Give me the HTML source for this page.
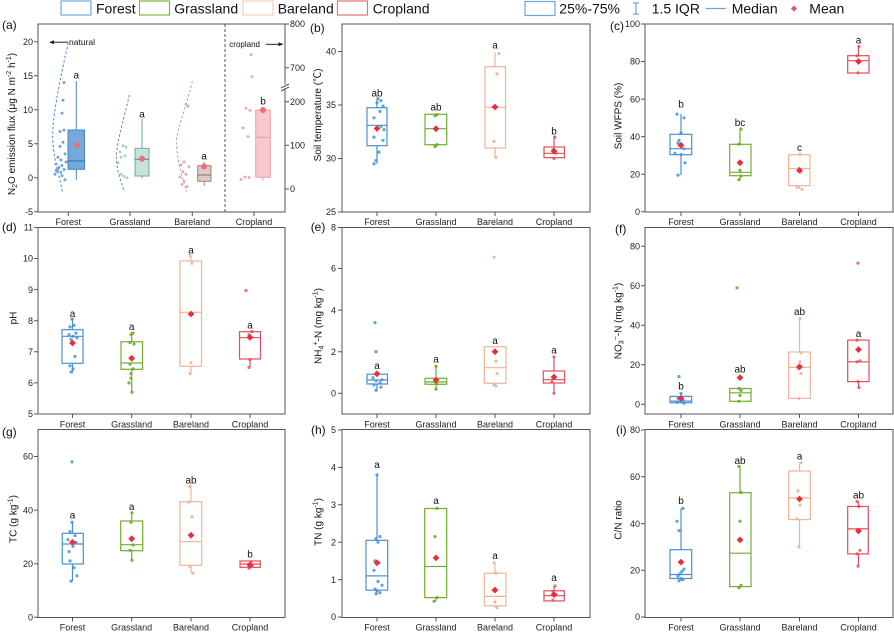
<!DOCTYPE html>
<html><head><meta charset="utf-8"><style>
html,body{margin:0;padding:0;background:#fff;}
svg{display:block;font-family:"Liberation Sans",Arial,"Noto Sans CJK SC",sans-serif;}
.fr{fill:none;stroke:#555;stroke-width:1}
.tk{stroke:#555;stroke-width:1;fill:none}
.yl{font-size:9px;fill:#222;text-anchor:end}
.yr{font-size:9px;fill:#222}
.xl{font-size:9px;fill:#222;text-anchor:middle}
.at{font-size:10px;fill:#111;text-anchor:middle}
.pl{font-size:12px;fill:#111}
.lt{font-size:10px;fill:#111;text-anchor:middle}
.lg{font-size:14px;fill:#111}
.F{fill:none;stroke:#4a90d0;stroke-width:1.2}
.G{fill:none;stroke:#72ad2e;stroke-width:1.2}
.B{fill:none;stroke:#f0b496;stroke-width:1.2}
.C{fill:none;stroke:#e44c5a;stroke-width:1.2}
.pF{fill:#5fa3d9}
.pG{fill:#7ab43c}
.pB{fill:#ecb9a2}
.pC{fill:#e8707a}
</style></head><body>
<svg width="894" height="632" viewBox="0 0 894 632" xmlns="http://www.w3.org/2000/svg">
<defs><path id="m" d="M0,-3.4L3.4,0L0,3.4L-3.4,0Z" fill="#e8303a"/></defs>

<!-- Legend -->
<rect x="61" y="1" width="30" height="14" fill="none" stroke="#6aaee0" stroke-width="1.2"/>
<text class="lg" x="96" y="13.5">Forest</text>
<rect x="139.5" y="1" width="30" height="14" fill="none" stroke="#7db63c" stroke-width="1.2"/>
<text class="lg" x="174.3" y="13.5">Grassland</text>
<rect x="243" y="1" width="30" height="14" fill="none" stroke="#f5cdb8" stroke-width="1.2"/>
<text class="lg" x="277.7" y="13.5">Bareland</text>
<rect x="337.5" y="1" width="30" height="14" fill="none" stroke="#e0707a" stroke-width="1.2"/>
<text class="lg" x="372.7" y="13.5">Cropland</text>
<rect x="525" y="1.5" width="30" height="14" fill="none" stroke="#6aa8dc" stroke-width="1.2"/>
<text class="lg" x="559.3" y="13.5">25%-75%</text>
<path d="M636,3V14M633,3H639M633,14H639" stroke="#6aa8dc" stroke-width="1.2" fill="none"/>
<text class="lg" x="651.7" y="13.5">1.5 IQR</text>
<line x1="705.7" y1="8.5" x2="725.7" y2="8.5" stroke="#6aa8dc" stroke-width="1.2"/>
<text class="lg" x="731.7" y="13.5">Median</text>
<path d="M794,5.5L797,8.5L794,11.5L791,8.5Z" fill="#e8505a"/>
<text class="lg" x="809.3" y="13.5">Mean</text>

<!-- ===== Panel (a) ===== -->
<text class="pl" x="2" y="29">(a)</text>
<rect class="fr" x="38" y="24" width="247" height="188"/>
<path class="tk" d="M34,41.7H38M34,75.7H38M34,109.7H38M34,143.7H38M34,177.7H38M34,211.7H38"/>
<text class="yl" x="33" y="44.9">20</text>
<text class="yl" x="33" y="78.9">15</text>
<text class="yl" x="33" y="112.9">10</text>
<text class="yl" x="33" y="146.9">5</text>
<text class="yl" x="33" y="180.9">0</text>
<text class="yl" x="33" y="214.9">-5</text>
<path class="tk" d="M285,24H289M285,67.7H289M285,101.7H289M285,145.3H289M285,189H289"/>
<text class="yr" x="290" y="27.2">800</text>
<text class="yr" x="290" y="70.9">700</text>
<text class="yr" x="290" y="104.9">200</text>
<text class="yr" x="290" y="148.5">100</text>
<text class="yr" x="290" y="192.2">0</text>
<rect x="283" y="84.5" width="5" height="4" fill="#fff"/>
<path d="M281,88L289,84M281,91L289,87" stroke="#555" stroke-width="1" fill="none"/>
<path class="tk" d="M68.3,212V216M130,212V216M192.3,212V216M254,212V216"/>
<text class="xl" x="68.3" y="225">Forest</text>
<text class="xl" x="130" y="225">Grassland</text>
<text class="xl" x="192.3" y="225">Bareland</text>
<text class="xl" x="254" y="225">Cropland</text>
<line x1="225" y1="24" x2="225" y2="212" stroke="#555" stroke-width="1" stroke-dasharray="3,2"/>
<line x1="52" y1="42.2" x2="68" y2="42.2" stroke="#222" stroke-width="1"/>
<path d="M49,42.2L54,40.2L54,44.2Z" fill="#222"/>
<text x="69" y="45" style="font-size:8.5px;fill:#111">natural</text>
<text x="229.3" y="47" style="font-size:8px;fill:#111">cropland</text>
<line x1="266" y1="44.3" x2="280" y2="44.3" stroke="#222" stroke-width="1"/>
<path d="M283.5,44.3L278.5,42.3L278.5,46.3Z" fill="#222"/>
<text class="at" transform="translate(15,124) rotate(-90)">N<tspan font-size="7" dy="2">2</tspan><tspan dy="-2">O emission flux (μg N m</tspan><tspan font-size="7" dy="-4">-2</tspan><tspan dy="4"> h</tspan><tspan font-size="7" dy="-4">-1</tspan><tspan dy="4">)</tspan></text>
<!-- violins -->
<path d="M68.3,42.7C60,80 50,125 53.3,146.7C55,165 60,178 62.3,191.7" fill="none" stroke="#4a89c6" stroke-width="1" stroke-dasharray="2.5,2"/>
<path d="M129.3,95C124,120 114,150 116.7,163C118,175 122,183 124,191.7" fill="none" stroke="#5f8f88" stroke-width="1" stroke-dasharray="2.5,2"/>
<path d="M192.3,81C186,110 174,135 176.7,147C178,165 183,180 186.7,191.7" fill="none" stroke="#c49a98" stroke-width="1" stroke-dasharray="2.5,2"/>
<!-- points a -->
<g fill="#6fa6da">
<circle cx="64" cy="82.5" r="1.5"/><circle cx="63" cy="100.2" r="1.5"/><circle cx="62" cy="113.1" r="1.5"/><circle cx="64" cy="130.1" r="1.5"/><circle cx="60" cy="131.5" r="1.5"/><circle cx="63" cy="142.3" r="1.5"/><circle cx="60" cy="146.4" r="1.5"/><circle cx="65" cy="153.9" r="1.5"/><circle cx="58" cy="157.3" r="1.5"/><circle cx="61" cy="160" r="1.5"/><circle cx="66" cy="162" r="1.5"/><circle cx="56" cy="164.1" r="1.5"/><circle cx="62" cy="165.5" r="1.5"/><circle cx="59" cy="167.5" r="1.5"/><circle cx="64" cy="169.5" r="1.5"/><circle cx="57" cy="170.5" r="2.2"/><circle cx="61" cy="172.3" r="1.5"/><circle cx="55" cy="174.3" r="1.5"/><circle cx="62" cy="175.7" r="1.5"/><circle cx="65" cy="179.7" r="1.5"/>
</g>
<g fill="#a8d0c7">
<circle cx="123" cy="145.7" r="1.5"/><circle cx="126" cy="147.1" r="1.5"/><circle cx="120" cy="151.9" r="1.5"/><circle cx="125" cy="155.9" r="1.5"/><circle cx="121" cy="157.3" r="1.5"/><circle cx="118" cy="162.7" r="1.5"/><circle cx="121" cy="174.3" r="1.5"/><circle cx="124" cy="176.3" r="1.5"/><circle cx="127" cy="177.7" r="1.5"/>
</g>
<g fill="#d9b2ae">
<circle cx="186" cy="104.3" r="1.5"/><circle cx="188" cy="106.3" r="1.5"/><circle cx="184" cy="162" r="1.5"/><circle cx="181" cy="164.8" r="1.5"/><circle cx="189" cy="166.8" r="1.5"/><circle cx="183" cy="171.6" r="1.5"/><circle cx="186" cy="174.3" r="1.5"/><circle cx="180" cy="177" r="1.5"/><circle cx="184" cy="181.1" r="1.5"/><circle cx="182" cy="184.5" r="1.5"/><circle cx="187" cy="186.5" r="1.5"/>
</g>
<g fill="#f0a8b0">
<circle cx="251" cy="54.6" r="1.5"/><circle cx="252" cy="76.7" r="1.5"/><circle cx="246" cy="108.2" r="1.5"/><circle cx="250" cy="110.3" r="1.5"/><circle cx="243" cy="127.8" r="1.5"/><circle cx="248" cy="136.6" r="1.5"/><circle cx="245" cy="177" r="1.5"/><circle cx="241" cy="179.4" r="1.5"/><circle cx="249" cy="177.5" r="1.5"/>
</g>
<!-- boxes a -->
<g stroke="#4a86c0" stroke-width="1">
<line x1="76.3" y1="81" x2="76.3" y2="130"/><line x1="76.3" y1="169.3" x2="76.3" y2="180"/>
<rect x="68" y="130" width="16.5" height="39.3" fill="#74a9dc"/>
<line x1="68" y1="161" x2="84.5" y2="161" stroke="#3a70a8"/>
</g>
<g stroke="#70a89e" stroke-width="1">
<line x1="142" y1="118.7" x2="142" y2="148.3"/><line x1="142" y1="176" x2="142" y2="178.3"/>
<rect x="135" y="148.3" width="14" height="27.7" fill="#c5e3dc"/>
<line x1="135" y1="159.3" x2="149" y2="159.3" stroke="#4f877d"/>
</g>
<g stroke="#9a8680" stroke-width="1">
<line x1="204.3" y1="162" x2="204.3" y2="165.7"/><line x1="204.3" y1="181.3" x2="204.3" y2="186"/>
<rect x="197.7" y="165.7" width="13.3" height="15.6" fill="#dccac4"/>
<line x1="197.7" y1="175" x2="211" y2="175" stroke="#8a6e68"/>
</g>
<g stroke="#eda0a6" stroke-width="1">
<line x1="263" y1="177.3" x2="263" y2="180.7"/>
<rect x="255.7" y="110" width="14.6" height="67.3" fill="#f8c8cc"/>
<line x1="255.7" y1="137.3" x2="270.3" y2="137.3" stroke="#e49aa0"/>
</g>
<g fill="#ec6d76">
<circle cx="77" cy="145" r="3"/><circle cx="142" cy="158.7" r="3"/><circle cx="204" cy="166.5" r="3"/><circle cx="263" cy="110" r="3"/>
</g>
<text class="lt" x="76.3" y="78.5">a</text>
<text class="lt" x="142" y="117.5">a</text>
<text class="lt" x="204" y="159.5">a</text>
<text class="lt" x="263" y="104.5">b</text>

<!-- ===== Panel (b) ===== -->
<text class="pl" x="310" y="32">(b)</text>
<rect class="fr" x="342" y="24" width="248" height="188"/>
<path class="tk" d="M338,51.5H342M338,105H342M338,158.5H342M338,212H342"/>
<text class="yl" x="336" y="54.7">40</text>
<text class="yl" x="336" y="108.2">35</text>
<text class="yl" x="336" y="161.7">30</text>
<text class="yl" x="336" y="215.2">25</text>
<path class="tk" d="M377,212V216M436,212V216M495,212V216M554,212V216"/>
<text class="xl" x="377" y="225">Forest</text>
<text class="xl" x="436" y="225">Grassland</text>
<text class="xl" x="495" y="225">Bareland</text>
<text class="xl" x="554" y="225">Cropland</text>
<text class="at" transform="translate(321,115) rotate(-90)">Soil temperature (℃)</text>
<g class="pF">
<circle cx="378" cy="98.6" r="1.6"/><circle cx="381" cy="100.7" r="1.6"/><circle cx="377" cy="102.9" r="1.6"/><circle cx="383" cy="106.1" r="1.6"/><circle cx="380" cy="111.4" r="1.6"/><circle cx="374" cy="117.8" r="1.6"/><circle cx="381" cy="126.4" r="1.6"/><circle cx="384" cy="129.6" r="1.6"/><circle cx="374" cy="137.1" r="1.6"/><circle cx="383" cy="140.3" r="1.6"/><circle cx="379" cy="152.1" r="1.6"/><circle cx="376" cy="160.6" r="1.6"/><circle cx="374" cy="163.8" r="1.6"/>
</g>
<g class="pG"><circle cx="437" cy="114.6" r="1.6"/><circle cx="435" cy="115.7" r="1.6"/><circle cx="436" cy="129.6" r="1.6"/><circle cx="437" cy="144.6" r="1.6"/><circle cx="435" cy="146.7" r="1.6"/></g>
<g class="pB"><circle cx="499" cy="53.6" r="1.6"/><circle cx="497" cy="74" r="1.6"/><circle cx="496" cy="107.1" r="1.6"/><circle cx="494" cy="141.4" r="1.6"/><circle cx="496" cy="157.4" r="1.6"/></g>
<g class="pC"><circle cx="555" cy="137.1" r="1.6"/><circle cx="553" cy="150" r="1.6"/><circle cx="556" cy="153.2" r="1.6"/><circle cx="554" cy="158.5" r="1.6"/></g>
<g class="F"><rect x="367" y="107.7" width="20" height="38"/><path d="M367,125.3H387M377,107.7V98.6M377,145.7V163.8"/></g>
<g class="G"><rect x="425" y="114.3" width="21.7" height="30.4"/><path d="M425,128.7H446.7M436,144.7V146.7"/></g>
<g class="B"><rect x="485" y="66.7" width="20.5" height="81.3"/><path d="M485,107.3H505.5M495,66.7V52.3M495,148V157"/></g>
<g class="C"><rect x="544" y="147" width="20.5" height="10.7"/><path d="M544,153.3H564.5M554,147V135.7"/></g>
<use href="#m" x="377" y="128.5"/><use href="#m" x="436" y="128.7"/><use href="#m" x="495" y="107"/><use href="#m" x="554" y="151"/>
<text class="lt" x="377" y="96.5">ab</text>
<text class="lt" x="436" y="110.5">ab</text>
<text class="lt" x="495" y="48.5">a</text>
<text class="lt" x="554" y="134.5">b</text>

<!-- ===== Panel (c) ===== -->
<text class="pl" x="610" y="30">(c)</text>
<rect class="fr" x="645" y="24" width="248" height="188"/>
<path class="tk" d="M641,24H645M641,61.5H645M641,99.1H645M641,136.6H645M641,174.2H645M641,211.7H645"/>
<text class="yl" x="640" y="27.2">100</text>
<text class="yl" x="640" y="64.7">80</text>
<text class="yl" x="640" y="102.3">60</text>
<text class="yl" x="640" y="139.8">40</text>
<text class="yl" x="640" y="177.4">20</text>
<text class="yl" x="640" y="214.9">0</text>
<path class="tk" d="M681,212V216M740,212V216M799.5,212V216M858.5,212V216"/>
<text class="xl" x="681" y="225">Forest</text>
<text class="xl" x="740" y="225">Grassland</text>
<text class="xl" x="799.5" y="225">Bareland</text>
<text class="xl" x="858.5" y="225">Cropland</text>
<text class="at" transform="translate(621.5,116) rotate(-90)">Soil WFPS (%)</text>
<g class="pF"><circle cx="677" cy="114.1" r="1.6"/><circle cx="684" cy="117.8" r="1.6"/><circle cx="681" cy="132.9" r="1.6"/><circle cx="679" cy="140.4" r="1.6"/><circle cx="678" cy="143.2" r="1.6"/><circle cx="684" cy="148.8" r="1.6"/><circle cx="675" cy="153.5" r="1.6"/><circle cx="681" cy="154.5" r="1.6"/><circle cx="685" cy="162.9" r="1.6"/><circle cx="678" cy="175.1" r="1.6"/></g>
<g class="pG"><circle cx="741" cy="129.1" r="1.6"/><circle cx="739" cy="144.1" r="1.6"/><circle cx="740" cy="170.4" r="1.6"/><circle cx="741" cy="176" r="1.6"/><circle cx="739" cy="179.8" r="1.6"/></g>
<g class="pB"><circle cx="800" cy="154.5" r="1.6"/><circle cx="799" cy="168.5" r="1.6"/><circle cx="801" cy="172.3" r="1.6"/><circle cx="797" cy="187.3" r="1.6"/><circle cx="802" cy="189.2" r="1.6"/></g>
<g class="pC"><circle cx="859" cy="46.5" r="1.6"/><circle cx="857" cy="55.9" r="1.6"/><circle cx="860" cy="61.5" r="1.6"/><circle cx="858" cy="72.8" r="1.6"/></g>
<g class="F"><rect x="670" y="134.3" width="21.7" height="20.4"/><path d="M670,148.7H691.7M681,134.3V114M681,154.7V175"/></g>
<g class="G"><rect x="729.7" y="144.3" width="21.3" height="31.4"/><path d="M729.7,172.3H751M740,144.3V129M740,175.7V179.8"/></g>
<g class="B"><rect x="788.7" y="154.7" width="21.3" height="31"/><path d="M788.7,168.5H810M799.5,185.7V189.2"/></g>
<g class="C"><rect x="847.7" y="55.7" width="21.3" height="17.3"/><path d="M847.7,60.7H869M858.5,55.7V45"/></g>
<use href="#m" x="681" y="145.3"/><use href="#m" x="740" y="162.7"/><use href="#m" x="799.5" y="170.4"/><use href="#m" x="858.5" y="61.5"/>
<text class="lt" x="681" y="107.5">b</text>
<text class="lt" x="740" y="125.8">bc</text>
<text class="lt" x="799.5" y="151.2">c</text>
<text class="lt" x="858.5" y="43.5">a</text>

<!-- ===== Panel (d) ===== -->
<text class="pl" x="2" y="231">(d)</text>
<rect class="fr" x="38" y="227.5" width="247" height="186.5"/>
<path class="tk" d="M34,227.4H38M34,258.5H38M34,289.6H38M34,320.7H38M34,351.8H38M34,382.9H38M34,414H38"/>
<text class="yl" x="33" y="230.6">11</text>
<text class="yl" x="33" y="261.7">10</text>
<text class="yl" x="33" y="292.8">9</text>
<text class="yl" x="33" y="323.9">8</text>
<text class="yl" x="33" y="355">7</text>
<text class="yl" x="33" y="386.1">6</text>
<text class="yl" x="33" y="417.2">5</text>
<path class="tk" d="M72.5,414V418M131.7,414V418M191,414V418M250,414V418"/>
<text class="xl" x="72.5" y="427.5">Forest</text>
<text class="xl" x="131.7" y="427.5">Grassland</text>
<text class="xl" x="191" y="427.5">Bareland</text>
<text class="xl" x="250" y="427.5">Cropland</text>
<text class="at" transform="translate(16.5,318) rotate(-90)">pH</text>
<g class="pF"><circle cx="72" cy="319.1" r="1.6"/><circle cx="74" cy="325.4" r="1.6"/><circle cx="70" cy="326.9" r="1.6"/><circle cx="76" cy="333.1" r="1.6"/><circle cx="69" cy="334.7" r="1.6"/><circle cx="73" cy="336.3" r="1.6"/><circle cx="77" cy="337.8" r="1.6"/><circle cx="71" cy="339.4" r="1.6"/><circle cx="75" cy="356.5" r="1.6"/><circle cx="70" cy="365.8" r="1.6"/><circle cx="73" cy="368.9" r="1.6"/><circle cx="71" cy="372" r="1.6"/></g>
<g class="pG"><circle cx="133" cy="333.1" r="1.6"/><circle cx="131" cy="334.7" r="1.6"/><circle cx="130" cy="342.5" r="1.6"/><circle cx="134" cy="344" r="1.6"/><circle cx="132" cy="358" r="1.6"/><circle cx="130" cy="364.2" r="1.6"/><circle cx="133" cy="368.9" r="1.6"/><circle cx="131" cy="373.6" r="1.6"/><circle cx="131" cy="378.2" r="1.6"/><circle cx="129" cy="382.9" r="1.6"/><circle cx="132" cy="392.2" r="1.6"/></g>
<g class="pB"><circle cx="190" cy="255.4" r="1.6"/><circle cx="192" cy="263.2" r="1.6"/><circle cx="191" cy="362.7" r="1.6"/><circle cx="190" cy="373.6" r="1.6"/></g>
<g class="pC"><circle cx="246" cy="290.5" r="1.6"/><circle cx="252" cy="331.6" r="1.6"/><circle cx="249" cy="334.7" r="1.6"/><circle cx="250" cy="359.6" r="1.6"/><circle cx="249" cy="367.4" r="1.6"/></g>
<g class="F"><rect x="62" y="329.7" width="21" height="33.6"/><path d="M62,336.3H83M72.5,329.7V318.3M72.5,363.3V372.7"/></g>
<g class="G"><rect x="121" y="341.7" width="21.5" height="27.6"/><path d="M121,363H142.5M131.7,341.7V331.7M131.7,369.3V392.7"/></g>
<g class="B"><rect x="180" y="261" width="21.5" height="105.3"/><path d="M180,312.3H201.5M191,261V255M191,366.3V373.3"/></g>
<g class="C"><rect x="239.5" y="331.7" width="21" height="27.3"/><path d="M239.5,337.7H260.5M250,359V366.7"/></g>
<use href="#m" x="72.5" y="343"/><use href="#m" x="131.7" y="358.3"/><use href="#m" x="191" y="314"/><use href="#m" x="250" y="337.3"/>
<text class="lt" x="72.5" y="316.8">a</text>
<text class="lt" x="131.7" y="330.2">a</text>
<text class="lt" x="191" y="253.5">a</text>
<text class="lt" x="250" y="328.5">a</text>

<!-- ===== Panel (e) ===== -->
<text class="pl" x="310.7" y="231">(e)</text>
<rect class="fr" x="342" y="227.5" width="248" height="186.5"/>
<path class="tk" d="M338,227.5H342M338,268.5H342M338,310.1H342M338,351.7H342M338,393.3H342"/>
<text class="yl" x="336" y="230.7">8</text>
<text class="yl" x="336" y="271.7">6</text>
<text class="yl" x="336" y="313.3">4</text>
<text class="yl" x="336" y="354.9">2</text>
<text class="yl" x="336" y="396.5">0</text>
<path class="tk" d="M377,414V418M436,414V418M495,414V418M554,414V418"/>
<text class="xl" x="377" y="427.5">Forest</text>
<text class="xl" x="436" y="427.5">Grassland</text>
<text class="xl" x="495" y="427.5">Bareland</text>
<text class="xl" x="554" y="427.5">Cropland</text>
<text class="at" transform="translate(321.5,326) rotate(-90)">NH<tspan font-size="7" dy="2">4</tspan><tspan font-size="7" dy="-6">+</tspan><tspan dy="4">-N (mg kg</tspan><tspan font-size="7" dy="-4">-1</tspan><tspan dy="4">)</tspan></text>
<g class="pF"><circle cx="375" cy="322.6" r="1.6"/><circle cx="376" cy="351.7" r="1.6"/><circle cx="373" cy="377.7" r="1.6"/><circle cx="382" cy="379.8" r="1.6"/><circle cx="376" cy="380.8" r="1.6"/><circle cx="380" cy="382.9" r="1.6"/><circle cx="374" cy="385" r="1.6"/><circle cx="381" cy="387.1" r="1.6"/><circle cx="376" cy="390.2" r="1.6"/></g>
<g class="pG"><circle cx="436" cy="366.3" r="1.6"/><circle cx="437" cy="379.8" r="1.6"/><circle cx="435" cy="381.9" r="1.6"/><circle cx="437" cy="384" r="1.6"/><circle cx="436" cy="389.1" r="1.6"/></g>
<g class="pB"><circle cx="494" cy="257.1" r="1.6"/><circle cx="496" cy="361.1" r="1.6"/><circle cx="497" cy="373.5" r="1.6"/><circle cx="494" cy="385" r="1.6"/><circle cx="496" cy="386" r="1.6"/></g>
<g class="pC"><circle cx="554" cy="356.9" r="1.6"/><circle cx="553" cy="377.7" r="1.6"/><circle cx="552" cy="381.9" r="1.6"/><circle cx="554" cy="393.3" r="1.6"/></g>
<g class="F"><rect x="367" y="374.2" width="20.5" height="9.8"/><path d="M367,380H387.5M377,384V390.7"/></g>
<g class="G"><rect x="425" y="378.3" width="21.7" height="6"/><path d="M425,382H446.7M436,378.3V365M436,384.3V389"/></g>
<g class="B"><rect x="484.3" y="346.7" width="21.7" height="36.6"/><path d="M484.3,367.7H506M495,383.3V385.7"/></g>
<g class="C"><rect x="543.3" y="371" width="21.4" height="12"/><path d="M543.3,379.7H564.7M554,371V356.7M554,383V393.3"/></g>
<use href="#m" x="377" y="373.8"/><use href="#m" x="436" y="380" fill="#c8703a"/><use href="#m" x="495" y="351.7"/><use href="#m" x="554" y="377"/>
<text class="lt" x="377" y="369.2">a</text>
<text class="lt" x="436" y="362.5">a</text>
<text class="lt" x="495" y="344.2">a</text>
<text class="lt" x="554" y="353.5">a</text>

<!-- ===== Panel (f) ===== -->
<text class="pl" x="615" y="233">(f)</text>
<rect class="fr" x="645" y="227.5" width="248" height="186.5"/>
<path class="tk" d="M641,246.3H645M641,285.8H645M641,325.3H645M641,364.8H645M641,404.3H645"/>
<text class="yl" x="640" y="249.5">80</text>
<text class="yl" x="640" y="289">60</text>
<text class="yl" x="640" y="328.5">40</text>
<text class="yl" x="640" y="368">20</text>
<text class="yl" x="640" y="407.5">0</text>
<path class="tk" d="M681,414V418M740,414V418M799.5,414V418M858.5,414V418"/>
<text class="xl" x="681" y="427.5">Forest</text>
<text class="xl" x="740" y="427.5">Grassland</text>
<text class="xl" x="799.5" y="427.5">Bareland</text>
<text class="xl" x="858.5" y="427.5">Cropland</text>
<text class="at" transform="translate(621.5,321) rotate(-90)">NO<tspan font-size="7" dy="2">3</tspan><tspan font-size="7" dy="-6">−</tspan><tspan dy="4">-N (mg kg</tspan><tspan font-size="7" dy="-4">-1</tspan><tspan dy="4">)</tspan></text>
<g class="pF"><circle cx="679" cy="376.6" r="1.6"/><circle cx="681" cy="393.4" r="1.6"/><circle cx="678" cy="398.4" r="1.6"/><circle cx="683" cy="400.3" r="1.6"/><circle cx="677" cy="402.3" r="1.6"/><circle cx="684" cy="403.3" r="1.6"/><circle cx="681" cy="402" r="1.6"/></g>
<g class="pG"><circle cx="737" cy="287.8" r="1.6"/><circle cx="739" cy="388.5" r="1.6"/><circle cx="741" cy="390.5" r="1.6"/><circle cx="740" cy="395.4" r="1.6"/><circle cx="739" cy="401.3" r="1.6"/></g>
<g class="pB"><circle cx="800" cy="318.4" r="1.6"/><circle cx="801" cy="352.9" r="1.6"/><circle cx="800" cy="361.8" r="1.6"/><circle cx="798" cy="368.8" r="1.6"/><circle cx="801" cy="373.7" r="1.6"/><circle cx="799" cy="398.4" r="1.6"/></g>
<g class="pC"><circle cx="858" cy="263.1" r="1.6"/><circle cx="857" cy="340.1" r="1.6"/><circle cx="860" cy="360.9" r="1.6"/><circle cx="857" cy="361.8" r="1.6"/><circle cx="858" cy="381.6" r="1.6"/><circle cx="859" cy="387.5" r="1.6"/></g>
<g class="F"><rect x="670" y="396.4" width="21.7" height="6.3"/><path d="M670,401.1H691.7M681,396.4V393.4"/></g>
<g class="G"><rect x="729.7" y="388.5" width="21.3" height="12.8"/><path d="M729.7,392.8H751"/></g>
<g class="B"><rect x="788.7" y="352" width="21.6" height="46.4"/><path d="M788.7,367.4H810.3M799.5,352V318.4"/></g>
<g class="C"><rect x="847.7" y="340.1" width="21.3" height="41.5"/><path d="M847.7,361.8H869M858.5,381.6V387.5"/></g>
<use href="#m" x="681" y="398.4"/><use href="#m" x="740" y="377.6"/><use href="#m" x="799.5" y="366.8"/><use href="#m" x="858.5" y="349.6"/>
<text class="lt" x="681" y="389.5">b</text>
<text class="lt" x="740" y="372.5">ab</text>
<text class="lt" x="799.5" y="315.2">ab</text>
<text class="lt" x="858.5" y="336.8">a</text>

<!-- ===== Panel (g) ===== -->
<text class="pl" x="2" y="436">(g)</text>
<rect class="fr" x="38" y="429.5" width="247" height="188"/>
<path class="tk" d="M34,456.5H38M34,510.1H38M34,563.7H38M34,617.3H38"/>
<text class="yl" x="33" y="459.7">60</text>
<text class="yl" x="33" y="513.3">40</text>
<text class="yl" x="33" y="566.9">20</text>
<text class="yl" x="33" y="620.5">0</text>
<path class="tk" d="M72.5,617.5V621.5M131.7,617.5V621.5M191,617.5V621.5M250,617.5V621.5"/>
<text class="xl" x="72.5" y="630.5">Forest</text>
<text class="xl" x="131.7" y="630.5">Grassland</text>
<text class="xl" x="191" y="630.5">Bareland</text>
<text class="xl" x="250" y="630.5">Cropland</text>
<text class="at" transform="translate(16.5,519) rotate(-90)">TC (g kg<tspan font-size="7" dy="-4">-1</tspan><tspan dy="4">)</tspan></text>
<g class="pF"><circle cx="72" cy="461.9" r="1.6"/><circle cx="72" cy="522.2" r="1.6"/><circle cx="70" cy="531.5" r="1.6"/><circle cx="75" cy="535.6" r="1.6"/><circle cx="68" cy="539.6" r="1.6"/><circle cx="76" cy="542.3" r="1.6"/><circle cx="73" cy="546.3" r="1.6"/><circle cx="69" cy="551.6" r="1.6"/><circle cx="70" cy="561" r="1.6"/><circle cx="74" cy="567.7" r="1.6"/><circle cx="77" cy="575.8" r="1.6"/><circle cx="71" cy="581.1" r="1.6"/></g>
<g class="pG"><circle cx="132" cy="512.8" r="1.6"/><circle cx="131" cy="522.2" r="1.6"/><circle cx="133" cy="545" r="1.6"/><circle cx="130" cy="550.3" r="1.6"/><circle cx="132" cy="560.2" r="1.6"/></g>
<g class="pB"><circle cx="190" cy="486.5" r="1.6"/><circle cx="189" cy="502.1" r="1.6"/><circle cx="192" cy="516.8" r="1.6"/><circle cx="190" cy="566.4" r="1.6"/><circle cx="193" cy="573.1" r="1.6"/></g>
<g class="pC"><circle cx="251" cy="561.8" r="1.6"/><circle cx="249" cy="564.2" r="1.6"/><circle cx="252" cy="565.8" r="1.6"/><circle cx="249" cy="568.3" r="1.6"/></g>
<g class="F"><rect x="62.3" y="533.3" width="21" height="30.7"/><path d="M62.3,544H83.3M72.5,533.3V521.7M72.5,564V581"/></g>
<g class="G"><rect x="120.7" y="521" width="22" height="29.7"/><path d="M120.7,544.7H142.7M131.7,521V511.7M131.7,550.7V560"/></g>
<g class="B"><rect x="180" y="501.7" width="21.7" height="63.6"/><path d="M180,541.7H201.7M191,501.7V486.7M191,565.3V572.7"/></g>
<g class="C"><rect x="240" y="561" width="20.3" height="6.3"/><path d="M240,564H260.3M250,567.3V568.5"/></g>
<use href="#m" x="72.5" y="542.3" fill="#ec6d76"/><use href="#m" x="131.7" y="538.7"/><use href="#m" x="191" y="535.3"/><use href="#m" x="250" y="565"/>
<text class="lt" x="72.5" y="518.5">a</text>
<text class="lt" x="131.7" y="510.2">a</text>
<text class="lt" x="191" y="483.5">ab</text>
<text class="lt" x="250" y="557.5">b</text>

<!-- ===== Panel (h) ===== -->
<text class="pl" x="311" y="434">(h)</text>
<rect class="fr" x="342" y="429.5" width="248" height="188"/>
<path class="tk" d="M338,430H342M338,467.4H342M338,504.8H342M338,542.2H342M338,579.6H342M338,617H342"/>
<text class="yl" x="336" y="433.2">5</text>
<text class="yl" x="336" y="470.6">4</text>
<text class="yl" x="336" y="508">3</text>
<text class="yl" x="336" y="545.4">2</text>
<text class="yl" x="336" y="582.8">1</text>
<text class="yl" x="336" y="620.2">0</text>
<path class="tk" d="M377,617.5V621.5M436,617.5V621.5M495,617.5V621.5M554,617.5V621.5"/>
<text class="xl" x="377" y="630.5">Forest</text>
<text class="xl" x="436" y="630.5">Grassland</text>
<text class="xl" x="495" y="630.5">Bareland</text>
<text class="xl" x="554" y="630.5">Cropland</text>
<text class="at" transform="translate(321.5,522) rotate(-90)">TN (g kg<tspan font-size="7" dy="-4">-1</tspan><tspan dy="4">)</tspan></text>
<g class="pF"><circle cx="377" cy="474.9" r="1.6"/><circle cx="380" cy="536.6" r="1.6"/><circle cx="376" cy="538.5" r="1.6"/><circle cx="378" cy="542.2" r="1.6"/><circle cx="375" cy="560.9" r="1.6"/><circle cx="379" cy="562.8" r="1.6"/><circle cx="374" cy="570.3" r="1.6"/><circle cx="378" cy="581.5" r="1.6"/><circle cx="382" cy="585.2" r="1.6"/><circle cx="375" cy="589" r="1.6"/><circle cx="377" cy="590.8" r="1.6"/><circle cx="380" cy="592.7" r="1.6"/><circle cx="376" cy="593.8" r="1.6"/></g>
<g class="pG"><circle cx="437" cy="508.5" r="1.6"/><circle cx="435" cy="536.6" r="1.6"/><circle cx="437" cy="597.6" r="1.6"/><circle cx="434" cy="601.3" r="1.6"/></g>
<g class="pB"><circle cx="494" cy="562.8" r="1.6"/><circle cx="496" cy="573.2" r="1.6"/><circle cx="493" cy="590.1" r="1.6"/><circle cx="495" cy="602" r="1.6"/><circle cx="497" cy="607.7" r="1.6"/></g>
<g class="pC"><circle cx="555" cy="586" r="1.6"/><circle cx="553" cy="591.6" r="1.6"/><circle cx="556" cy="594.6" r="1.6"/><circle cx="553" cy="600.2" r="1.6"/></g>
<g class="F"><rect x="366" y="540.3" width="21.7" height="49.8"/><path d="M366,575.9H387.7M377,540.3V474.9M377,590.1V593.8"/></g>
<g class="G"><rect x="424.7" y="508.5" width="22" height="89.1"/><path d="M424.7,566.5H446.7M436,597.6V601.3"/></g>
<g class="B"><rect x="484.3" y="573.2" width="21.7" height="32.6"/><path d="M484.3,596.4H506M495,573.2V562.8M495,605.8V607.7"/></g>
<g class="C"><rect x="544" y="590.8" width="20.3" height="10.1"/><path d="M544,595.7H564.3M554,590.8V586"/></g>
<use href="#m" x="377" y="562.8" fill="#ec6d76"/><use href="#m" x="436" y="557.9" fill="#ec5560"/><use href="#m" x="495" y="590.1"/><use href="#m" x="554" y="594.6"/>
<text class="lt" x="377" y="467.8">a</text>
<text class="lt" x="436" y="504.2">a</text>
<text class="lt" x="495" y="559.2">a</text>
<text class="lt" x="554" y="580.8">a</text>

<!-- ===== Panel (i) ===== -->
<text class="pl" x="616" y="434">(i)</text>
<rect class="fr" x="645" y="429.5" width="248" height="188"/>
<path class="tk" d="M641,430H645M641,476.8H645M641,523.6H645M641,570.3H645M641,617H645"/>
<text class="yl" x="640" y="433.2">80</text>
<text class="yl" x="640" y="480">60</text>
<text class="yl" x="640" y="526.8">40</text>
<text class="yl" x="640" y="573.5">20</text>
<text class="yl" x="640" y="620.2">0</text>
<path class="tk" d="M681,617.5V621.5M740,617.5V621.5M799.5,617.5V621.5M858.5,617.5V621.5"/>
<text class="xl" x="681" y="630.5">Forest</text>
<text class="xl" x="740" y="630.5">Grassland</text>
<text class="xl" x="799.5" y="630.5">Bareland</text>
<text class="xl" x="858.5" y="630.5">Cropland</text>
<text class="at" transform="translate(621.5,520) rotate(-90)">C/N ratio</text>
<g class="pF"><circle cx="683" cy="508.4" r="1.6"/><circle cx="677" cy="521.2" r="1.6"/><circle cx="679" cy="530.6" r="1.6"/><circle cx="684" cy="569.1" r="1.6"/><circle cx="682" cy="571.4" r="1.6"/><circle cx="680" cy="573.8" r="1.6"/><circle cx="678" cy="576.1" r="1.6"/><circle cx="681" cy="578.5" r="1.6"/><circle cx="683" cy="579.6" r="1.6"/><circle cx="679" cy="580.8" r="1.6"/></g>
<g class="pG"><circle cx="739" cy="466.3" r="1.6"/><circle cx="741" cy="492.5" r="1.6"/><circle cx="740" cy="521.2" r="1.6"/><circle cx="741" cy="585.5" r="1.6"/><circle cx="739" cy="587.8" r="1.6"/></g>
<g class="pB"><circle cx="801" cy="462.8" r="1.6"/><circle cx="798" cy="490.9" r="1.6"/><circle cx="800" cy="504.9" r="1.6"/><circle cx="797" cy="518.9" r="1.6"/><circle cx="799" cy="546.9" r="1.6"/></g>
<g class="pC"><circle cx="857" cy="501.4" r="1.6"/><circle cx="859" cy="506.5" r="1.6"/><circle cx="858" cy="529.4" r="1.6"/><circle cx="860" cy="550.4" r="1.6"/><circle cx="857" cy="553.9" r="1.6"/><circle cx="858" cy="566.1" r="1.6"/></g>
<g class="F"><rect x="670" y="549.7" width="21.7" height="28.8"/><path d="M670,574.5H691.7M681,549.7V508.4M681,578.5V580.8"/></g>
<g class="G"><rect x="729.7" y="492.7" width="21.3" height="93.9"/><path d="M729.7,553.2H751M740,492.7V466.3M740,586.6V587.8"/></g>
<g class="B"><rect x="788.7" y="471" width="21.6" height="48.6"/><path d="M788.7,497.9H810.3M799.5,471V462.8M799.5,519.6V546.9"/></g>
<g class="C"><rect x="847.7" y="506.5" width="20.6" height="47.4"/><path d="M847.7,528.9H868.3M858.5,506.5V501.4M858.5,553.9V566.1"/></g>
<use href="#m" x="681" y="562.1" fill="#ec5560"/><use href="#m" x="740" y="539.9" fill="#ec5560"/><use href="#m" x="799.5" y="499"/><use href="#m" x="858.5" y="531"/>
<text class="lt" x="681" y="504.2">b</text>
<text class="lt" x="740" y="464.2">ab</text>
<text class="lt" x="799.5" y="459.5">a</text>
<text class="lt" x="858.5" y="498.5">ab</text>
</svg>
</body></html>
